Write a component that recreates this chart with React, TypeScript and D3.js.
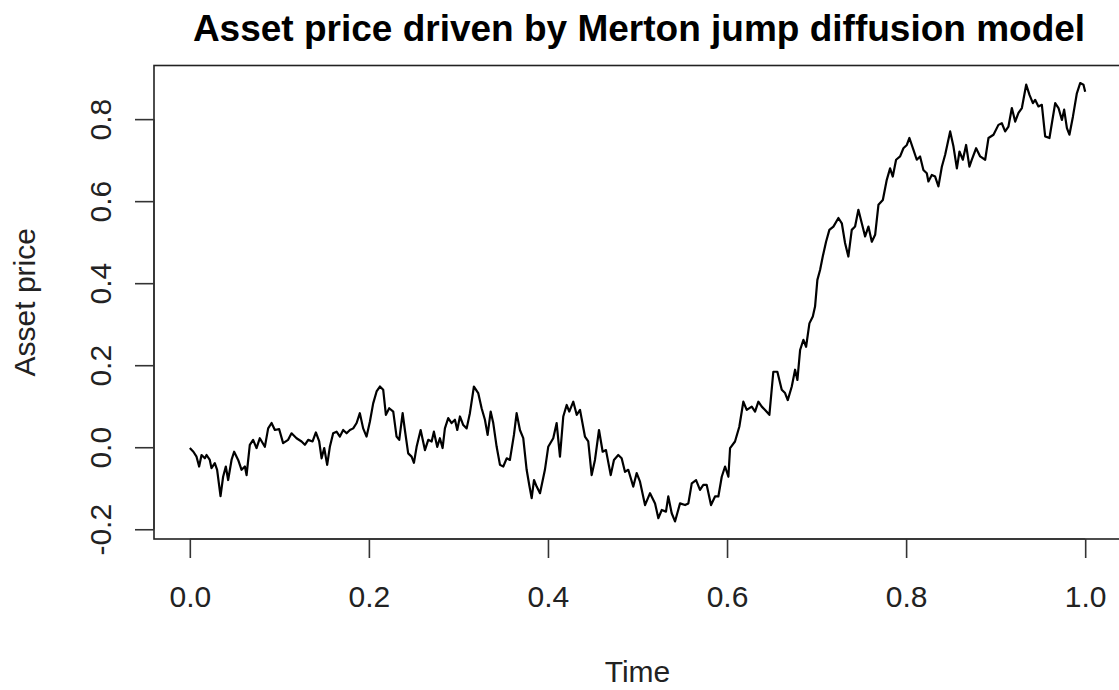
import * as d3 from "d3";
import { useEffect, useRef } from "react";

// time steps
const timeValues = [
  0.000, 0.004, 0.0075, 0.0104, 0.0131, 0.0168, 0.0187, 0.0223, 0.0242, 0.0279,
  0.0305, 0.0343, 0.0372, 0.0402, 0.0428, 0.0466, 0.0495, 0.054, 0.0578, 0.0615,
  0.0634, 0.067, 0.0707, 0.0745, 0.0782, 0.0838, 0.0875, 0.0913, 0.095, 0.0998,
  0.1042, 0.1098, 0.1136, 0.1192, 0.1248, 0.1285, 0.1322, 0.1371, 0.1408, 0.1445,
  0.1472, 0.1501, 0.1534, 0.1564, 0.1601, 0.1639, 0.1676, 0.1713, 0.1751, 0.1788,
  0.1825, 0.1863,
  0.1899, 0.1936, 0.1974, 0.2011, 0.2048, 0.2086, 0.2123, 0.216, 0.219, 0.2227,
  0.2272, 0.2309, 0.2339, 0.2377, 0.2402, 0.2439, 0.2477, 0.2503, 0.2533, 0.2578,
  0.2626, 0.2663, 0.2701, 0.2726, 0.2763, 0.2793, 0.2823, 0.2849, 0.2886, 0.2924,
  0.2961, 0.2987, 0.3017, 0.3054, 0.3092, 0.3128, 0.3173, 0.3221, 0.3259, 0.3296,
  0.3326, 0.336, 0.3389, 0.3427, 0.3464, 0.3501, 0.3539, 0.3575, 0.362, 0.365,
  0.3687, 0.3724, 0.3762, 0.3791, 0.3818, 0.3844, 0.3874,
  0.3911, 0.3966, 0.4003, 0.4059, 0.4097, 0.4134, 0.4171, 0.4209, 0.4238, 0.4283,
  0.4321, 0.4358, 0.4413, 0.445, 0.4488, 0.4525, 0.457, 0.4611, 0.4648, 0.4701,
  0.4737, 0.4785, 0.4823, 0.486, 0.4897, 0.4953, 0.4991, 0.5028, 0.5084, 0.514,
  0.5196, 0.5233, 0.5271, 0.5318, 0.5344, 0.5382, 0.5419, 0.5475, 0.5531, 0.5568,
  0.5606, 0.5654, 0.5698, 0.5735, 0.5773, 0.5821, 0.5866, 0.5903, 0.5941, 0.5978,
  0.6015, 0.6034, 0.6089, 0.6137,
  0.6182, 0.622, 0.6276, 0.6313, 0.635, 0.6388, 0.6425, 0.6473, 0.6517, 0.6562,
  0.6611, 0.6648, 0.6678, 0.6723, 0.676, 0.6786, 0.6816, 0.6853, 0.6883, 0.692,
  0.6958, 0.6983, 0.7009, 0.7039, 0.7069, 0.7106, 0.7143, 0.7188, 0.7244, 0.7282,
  0.7318, 0.7355, 0.7393, 0.743, 0.7467, 0.7505, 0.7542, 0.7579, 0.7617, 0.7654,
  0.7691, 0.774,
  0.7784, 0.7821, 0.7851, 0.7888, 0.7933, 0.797, 0.8008, 0.8037, 0.8082, 0.8119,
  0.8156, 0.8193, 0.8231, 0.8249, 0.8287, 0.8324, 0.8361, 0.8399, 0.8436, 0.8492,
  0.8529, 0.8567, 0.8596, 0.8634, 0.867, 0.8707, 0.8734, 0.8782, 0.8827, 0.8883,
  0.892, 0.8976, 0.9031, 0.9069, 0.9106, 0.9143, 0.9181, 0.9218, 0.9255, 0.9293,
  0.9341, 0.9378, 0.9416, 0.9441, 0.9478, 0.9516, 0.9553, 0.9601, 0.9628, 0.9665,
  0.9702, 0.974, 0.9765, 0.9796, 0.9824, 0.9863, 0.9907, 0.9944, 0.9981, 1.000,
];

// asset price at each time step
const priceValues = [
  -0.002, -0.011, -0.023, -0.047, -0.019, -0.027, -0.019, -0.031, -0.051, -0.039,
  -0.055, -0.119, -0.072, -0.047, -0.080, -0.031, -0.011, -0.031, -0.055, -0.047,
  -0.068, 0.006, 0.018, -0.002, 0.022, 0.001, 0.046, 0.059, 0.042, 0.044,
  0.010, 0.018, 0.034, 0.022, 0.014, 0.006, 0.018, 0.014, 0.036, 0.014,
  -0.027, -0.002, -0.043, 0.001, 0.034, 0.038, 0.026, 0.042, 0.034, 0.042,
  0.046, 0.059,
  0.083, 0.046, 0.026, 0.062, 0.107, 0.136, 0.148, 0.140, 0.079, 0.095,
  0.087, 0.026, 0.018, 0.083, 0.042, -0.015, -0.023, -0.038, 0.001, 0.042,
  -0.007, 0.018, 0.014, 0.038, 0.001, 0.022, -0.002, 0.046, 0.071, 0.059,
  0.067, 0.042, 0.075, 0.054, 0.046, 0.083, 0.148, 0.132, 0.095, 0.067,
  0.030, 0.087, 0.059, 0.001, -0.043, -0.047, -0.027, -0.031, 0.030, 0.083,
  0.042, 0.022, -0.055, -0.092, -0.124, -0.080, -0.096,
  -0.112, -0.055, 0.001, 0.022, 0.059, -0.023, 0.075, 0.103, 0.087, 0.111,
  0.079, 0.091, 0.026, 0.014, -0.068, -0.031, 0.042, -0.011, -0.007, -0.068,
  -0.031, -0.019, -0.027, -0.060, -0.055, -0.096, -0.063, -0.084, -0.141, -0.112,
  -0.137, -0.173, -0.153, -0.157, -0.120, -0.161, -0.181, -0.137, -0.141, -0.137,
  -0.088, -0.080, -0.104, -0.092, -0.092, -0.141, -0.120, -0.120, -0.072, -0.047,
  -0.072, -0.002, 0.014, 0.050,
  0.111, 0.091, 0.099, 0.087, 0.111, 0.099, 0.091, 0.079, 0.184, 0.184,
  0.140, 0.132, 0.115, 0.148, 0.189, 0.164, 0.237, 0.262, 0.245, 0.302,
  0.319, 0.343, 0.408, 0.432, 0.465, 0.501, 0.530, 0.538, 0.559, 0.546,
  0.498, 0.465, 0.530, 0.538, 0.579, 0.546, 0.514, 0.538, 0.501, 0.518,
  0.591, 0.603,
  0.652, 0.680, 0.660, 0.701, 0.709, 0.729, 0.737, 0.754, 0.725, 0.701,
  0.709, 0.676, 0.668, 0.648, 0.664, 0.660, 0.636, 0.684, 0.713, 0.770,
  0.733, 0.680, 0.721, 0.701, 0.737, 0.684, 0.701, 0.729, 0.709, 0.701,
  0.754, 0.762, 0.786, 0.790, 0.770, 0.782, 0.827, 0.794, 0.815, 0.827,
  0.884, 0.859, 0.839, 0.847, 0.831, 0.835, 0.758, 0.754, 0.790, 0.839,
  0.827, 0.798, 0.823, 0.778, 0.762, 0.806, 0.863, 0.888, 0.884, 0.867,
];

const xTicks = [0, 0.2, 0.4, 0.6, 0.8, 1.0];
const yTicks = [-0.2, 0, 0.2, 0.4, 0.6, 0.8];

const WIDTH = 1119;
const HEIGHT = 690;
const FONT = "'Liberation Sans', Arial, Helvetica, sans-serif";

// R prints a plain hyphen for negative numbers
const fmt = (d: d3.NumberValue) => d3.format(".1f")(d).replace("\u2212", "-");

const App = () => {
  const ref = useRef<SVGSVGElement>(null);

  useEffect(() => {
    const svg = d3.select(ref.current);
    svg.selectAll("*").remove();

    const data = timeValues.map((t, i) => ({ t, v: priceValues[i] }));

    // R style 4% padding around the data range
    const xMin = d3.min(timeValues)!, xMax = d3.max(timeValues)!;
    const yMin = d3.min(priceValues)!, yMax = d3.max(priceValues)!;
    const xPad = (xMax - xMin) * 0.04;
    const yPad = (yMax - yMin) * 0.04;

    const x = d3.scaleLinear().domain([xMin - xPad, xMax + xPad]).range([154, 1121]);
    const y = d3.scaleLinear().domain([yMin - yPad, yMax + yPad]).range([539, 65.5]);

    // plot box
    svg.append("rect")
      .attr("x", x(xMin - xPad))
      .attr("y", y(yMax + yPad))
      .attr("width", x(xMax + xPad) - x(xMin - xPad))
      .attr("height", y(yMin - yPad) - y(yMax + yPad))
      .attr("fill", "none")
      .attr("stroke", "#222")
      .attr("stroke-width", 1.6);

    const line = d3.line<{ t: number; v: number }>()
      .x((d) => x(d.t))
      .y((d) => y(d.v));

    svg.append("path")
      .datum(data)
      .attr("d", line)
      .attr("fill", "none")
      .attr("stroke", "#000")
      .attr("stroke-width", 2.2)
      .attr("stroke-linejoin", "round");

    // x axis
    const xAxis = svg.append("g")
      .attr("transform", "translate(0," + y(yMin - yPad) + ")")
      .call(d3.axisBottom(x).tickValues(xTicks).tickFormat(fmt).tickSize(19).tickPadding(28));
    xAxis.select(".domain").remove();
    xAxis.append("line")
      .attr("x1", x(xTicks[0])).attr("x2", x(xTicks[xTicks.length - 1]))
      .attr("stroke", "#333").attr("stroke-width", 1.6);
    xAxis.selectAll(".tick line").attr("stroke", "#333").attr("stroke-width", 1.6);
    xAxis.selectAll("text")
      .attr("fill", "#222")
      .style("font-family", FONT)
      .style("font-size", "30px");

    // y axis, labels rotated like R
    const yAxis = svg.append("g")
      .attr("transform", "translate(" + x(xMin - xPad) + ",0)")
      .call(d3.axisLeft(y).tickValues(yTicks).tickFormat(fmt).tickSize(19));
    yAxis.select(".domain").remove();
    yAxis.append("line")
      .attr("y1", y(yTicks[0])).attr("y2", y(yTicks[yTicks.length - 1]))
      .attr("stroke", "#333").attr("stroke-width", 1.6);
    yAxis.selectAll(".tick line").attr("stroke", "#333").attr("stroke-width", 1.6);
    yAxis.selectAll("text")
      .attr("x", 0)
      .attr("dy", 0)
      .attr("transform", "translate(-43,0) rotate(-90)")
      .attr("text-anchor", "middle")
      .attr("fill", "#222")
      .style("font-family", FONT)
      .style("font-size", "30px");

    const cx = (x(xMin - xPad) + x(xMax + xPad)) / 2;
    const cy = (y(yMin - yPad) + y(yMax + yPad)) / 2;

    svg.append("text")
      .attr("x", 639)
      .attr("y", 41)
      .attr("text-anchor", "middle")
      .style("font-family", FONT)
      .style("font-size", "37px")
      .style("font-weight", "bold")
      .text("Asset price driven by Merton jump diffusion model");

    svg.append("text")
      .attr("x", cx)
      .attr("y", 682)
      .attr("text-anchor", "middle")
      .attr("fill", "#222")
      .style("font-family", FONT)
      .style("font-size", "30px")
      .text("Time");

    svg.append("text")
      .attr("transform", "translate(35," + cy + ") rotate(-90)")
      .attr("text-anchor", "middle")
      .attr("fill", "#222")
      .style("font-family", FONT)
      .style("font-size", "30px")
      .text("Asset price");
  }, []);

  return (
    <div style={{ position: "absolute", left: 0, top: 0 }}>
      <svg ref={ref} width={WIDTH} height={HEIGHT} style={{ display: "block", background: "#fff" }} />
    </div>
  );
};

export default App;
